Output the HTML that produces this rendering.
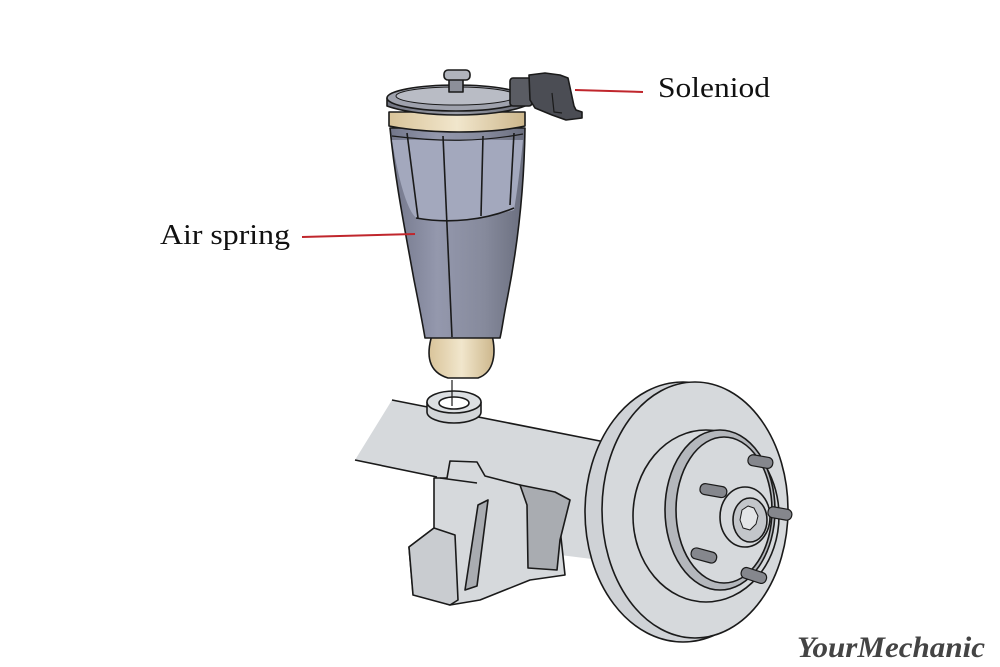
<!DOCTYPE html>
<html><head><meta charset="utf-8"><style>html,body{margin:0;padding:0;background:#fff}svg{display:block}</style></head>
<body>
<svg width="1000" height="667" viewBox="0 0 1000 667" xmlns="http://www.w3.org/2000/svg">
<defs>
<linearGradient id="body" x1="0" x2="1">
<stop offset="0" stop-color="#72768a"/><stop offset="0.35" stop-color="#9498ad"/><stop offset="0.7" stop-color="#868a9c"/><stop offset="1" stop-color="#6a6e7e"/></linearGradient>
<linearGradient id="tan" x1="0" x2="1">
<stop offset="0" stop-color="#d9c49a"/><stop offset="0.5" stop-color="#f1e6cc"/><stop offset="1" stop-color="#cdb78c"/></linearGradient>
<linearGradient id="cap" x1="0" x2="1">
<stop offset="0" stop-color="#707380"/><stop offset="0.5" stop-color="#9a9da8"/><stop offset="1" stop-color="#6a6d78"/></linearGradient>
</defs>
<g stroke="#1a1a1a" stroke-width="1.6" stroke-linejoin="round">
<!-- axle beam -->
<polygon points="355,460 392,400 605,442 600,560 440,540 437,477" fill="#d6d9dc" stroke="none"/>
<line x1="392" y1="400" x2="605" y2="442"/>
<line x1="355" y1="460" x2="437" y2="477"/>
<!-- bracket -->
<polygon points="409,547 413,593 450,605 480,600 530,580 565,575 557,500 520,485 485,476 477,462 450,461 447,478 434,478 434,528" fill="#d6d9dc"/>
<polygon points="520,485 555,492 570,500 560,540 557,570 528,568 527,505" fill="#a9acb1"/>
<polygon points="478,505 488,500 477,586 465,590" fill="#a9acb1"/>
<polygon points="409,547 434,528 455,535 458,600 450,605 413,595" fill="#c9ccd0"/>
<line x1="440" y1="478" x2="477" y2="483"/>
<!-- disc -->
<ellipse cx="683" cy="512" rx="98" ry="130" fill="#cfd2d6"/>
<ellipse cx="695" cy="510" rx="93" ry="128" fill="#d6d9dc"/>
<ellipse cx="706" cy="516" rx="73" ry="86" fill="#d6d9dc"/>
<ellipse cx="720" cy="510" rx="55" ry="80" fill="#b4b7bc"/>
<ellipse cx="724" cy="510" rx="48" ry="73" fill="#d6d9dc"/>
<ellipse cx="745" cy="517" rx="25" ry="30" fill="#d6d9dc"/>
<ellipse cx="750" cy="520" rx="17" ry="22" fill="#c3c6ca"/>
<path d="M742,510 l6,-4 l6,2 l4,8 l-2,8 l-6,6 l-7,-2 l-3,-8z" fill="#e3e5e7" stroke-width="1"/>
<g fill="#85878d" stroke-width="1.2">
<rect x="748" y="456" width="25" height="11" rx="5" transform="rotate(10 760 461)"/>
<rect x="700" y="485" width="27" height="11" rx="5" transform="rotate(10 713 490)"/>
<rect x="768" y="508" width="24" height="11" rx="5" transform="rotate(10 780 513)"/>
<rect x="691" y="550" width="26" height="11" rx="5" transform="rotate(15 704 555)"/>
<rect x="741" y="570" width="26" height="11" rx="5" transform="rotate(18 754 575)"/>
</g>
<!-- washer -->
<path d="M427,402 v10 a27,11 0 0 0 54,0 v-10" fill="#d2d5d8"/>
<ellipse cx="454" cy="402" rx="27" ry="11" fill="#dcdfe2"/>
<ellipse cx="454" cy="403" rx="15" ry="6" fill="#fff"/>
<line x1="452" y1="380" x2="452" y2="406" stroke-width="1.2"/>
<!-- tan bottom -->
<path d="M432,335 C426,355 428,372 448,378 L478,378 C495,372 496,352 492,335 Z" fill="url(#tan)"/>
<!-- body -->
<path d="M390,128 L525,128 C524,200 515,260 507,300 C503,320 502,330 500,338 L425,338 C422,320 418,300 414,280 C405,230 395,180 390,128 Z" fill="url(#body)"/>
<path d="M392,140 C400,190 410,215 417,218 C450,222 480,220 514,210 C519,180 522,150 523,140 Z" fill="#a3a8bd" stroke="none"/>
<g fill="none">
<path d="M416,218 C450,224 485,220 514,208"/>
<path d="M407,133 L418,218"/><path d="M443,136 L452,337"/><path d="M483,136 L481,216"/><path d="M514,133 L510,205"/>
<path d="M392,136 C440,142 480,142 523,134" stroke-width="1.2"/>
</g>
<!-- tan band -->
<path d="M389,112 L389,126 C430,134 490,134 525,126 L525,112 Z" fill="url(#tan)"/>
<!-- cap -->
<path d="M387,98 L387,106 C420,118 495,118 525,106 L525,98 Z" fill="url(#cap)"/>
<ellipse cx="456" cy="98" rx="69" ry="13" fill="#9fa2ad"/>
<ellipse cx="456" cy="96" rx="60" ry="9" fill="#b9bcc5" stroke-width="1"/>
<rect x="449" y="78" width="14" height="14" fill="#8c8f99"/>
<rect x="444" y="70" width="26" height="10" rx="4" fill="#b0b3bc"/>
<!-- solenoid -->
<rect x="510" y="78" width="22" height="28" rx="3" fill="#5a5c63"/>
<path d="M529,75 L545,73 L560,75 L568,78 L574,106 L576,110 L582,112 L582,118 L566,120 L552,115 L535,108 L530,100 Z" fill="#4b4d54"/>
<path d="M552,93 L554,112 L562,113" fill="none" stroke-width="1.2"/>
</g>
<line x1="575" y1="90" x2="643" y2="92" stroke="#c0262c" stroke-width="2"/>
<line x1="302" y1="237" x2="415" y2="234" stroke="#c0262c" stroke-width="2"/>
<g font-family="Liberation Serif, serif" fill="#111">
<text x="658" y="97" font-size="29" textLength="112" lengthAdjust="spacingAndGlyphs">Soleniod</text>
<text x="160" y="244" font-size="29" textLength="130" lengthAdjust="spacingAndGlyphs">Air spring</text>
</g>
<text x="797" y="657" font-family="Liberation Serif, serif" font-style="italic" font-weight="bold" font-size="30" fill="#444" textLength="188" lengthAdjust="spacingAndGlyphs">YourMechanic</text>
</svg>
</body></html>
